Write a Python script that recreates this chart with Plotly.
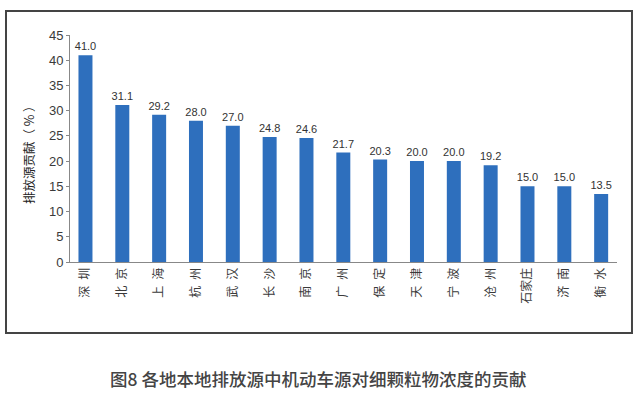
import plotly.graph_objects as go

cities = ["深圳", "北京", "上海", "杭州", "武汉", "长沙", "南京", "广州", "保定", "天津", "宁波", "沧州", "石家庄", "济南", "衡水"]
values = [41.0, 31.1, 29.2, 28.0, 27.0, 24.8, 24.6, 21.7, 20.3, 20.0, 20.0, 19.2, 15.0, 15.0, 13.5]
y_ticks = [0, 5, 10, 15, 20, 25, 30, 35, 40, 45]

ticktext = [("\u2002".join(c) if len(c) == 2 else c) for c in cities]

FONT = "Liberation Sans, Arial, Noto Sans CJK SC, sans-serif"
CJK = "Noto Sans CJK SC, sans-serif"

fig = go.Figure(go.Bar(
    x=list(range(len(cities))),
    y=values,
    width=0.38,
    marker=dict(color="#2e6fbd", line=dict(width=0)),
    text=[f"{v:.1f}" for v in values],
    textposition="outside",
    constraintext="none",
    textfont=dict(size=11, color="#333333", family=FONT),
    cliponaxis=False,
))

fig.update_layout(
    width=640, height=393,
    margin=dict(l=70, r=23, t=35, b=131),
    paper_bgcolor="white", plot_bgcolor="white",
    showlegend=False,
    font=dict(family=FONT, color="#333333"),
    xaxis=dict(
        range=[-0.42, 14.43],
        tickmode="array",
        tickvals=list(range(len(cities))),
        ticktext=ticktext,
        tickangle=-90,
        tickfont=dict(size=12, family=CJK, color="#3a3a3a"),
        showline=True, linecolor="#888888", linewidth=1,
        ticks="", showgrid=False, zeroline=False,
    ),
    yaxis=dict(
        range=[0, 45],
        tickmode="array",
        tickvals=y_ticks,
        tickfont=dict(size=13, color="#3a3a3a"),
        showline=True, linecolor="#888888", linewidth=1,
        ticks="outside", ticklen=3, tickcolor="#888888",
        showgrid=False, zeroline=False,
    ),
    shapes=[dict(
        type="rect", xref="paper", yref="paper",
        x0=-0.117, x1=1.0274, y0=-0.3128, y1=1.1057,
        line=dict(color="#444444", width=2), fillcolor="rgba(0,0,0,0)",
        layer="below",
    )],
    annotations=[
        dict(text="排放源贡献（ % ）", xref="paper", yref="paper",
             x=(28 - 70) / 547, y=(262 - 152) / 227, textangle=-90, showarrow=False,
             font=dict(size=12.5, family=CJK, color="#222222"),
             xanchor="center", yanchor="middle"),
        dict(text="图8 各地本地排放源中机动车源对细颗粒物浓度的贡献",
             xref="paper", yref="paper", x=(318 - 70) / 547, y=(262 - 378) / 227,
             showarrow=False, xanchor="center", yanchor="middle",
             font=dict(size=17.5, family=CJK, color="#444444", weight=500)),
    ],
)

fig.write_html("out.html", config={"displayModeBar": False},
               post_script="document.body.style.margin='0px';")
